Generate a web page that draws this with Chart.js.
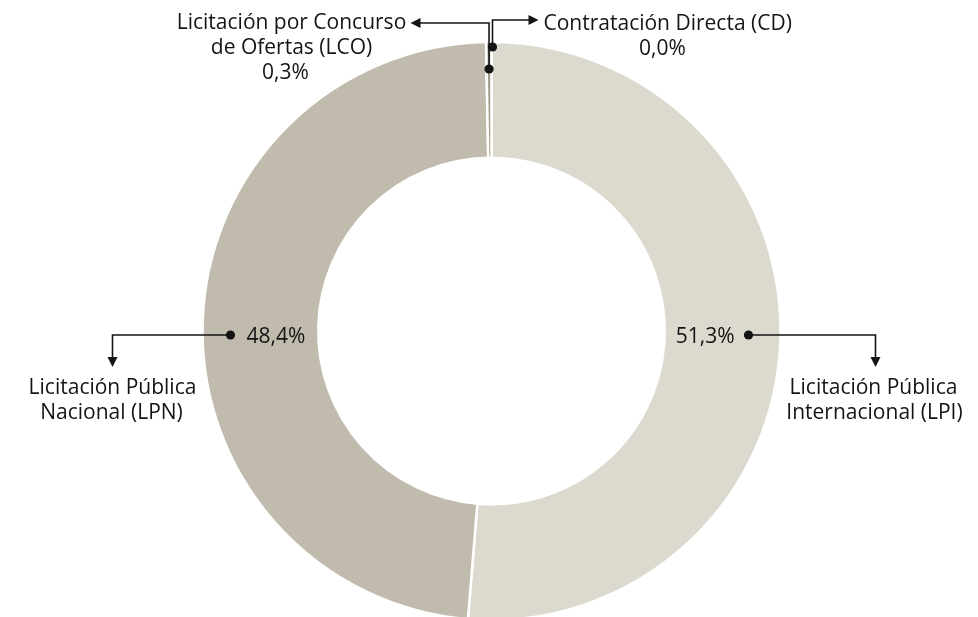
<!DOCTYPE html>
<html>
<head>
<meta charset="utf-8">
<script src="https://cdn.jsdelivr.net/npm/chart.js@4.4.1/dist/chart.umd.min.js"></script>
<style>
  html, body { margin: 0; padding: 0; background: #ffffff; overflow: hidden; }
  #wrap { width: 978px; height: 617px; overflow: hidden; }
</style>
</head>
<body>
<div id="wrap"><canvas id="donut" width="978" height="700"></canvas></div>
<script>
// Modalidades de contratación, % del total (sentido horario desde arriba)
const categories = [
  'Contratación Directa (CD)',
  'Licitación Pública Internacional (LPI)',
  'Licitación Pública Nacional (LPN)',
  'Licitación por Concurso de Ofertas (LCO)'
];
const shares = [0.0, 51.3, 48.4, 0.3];
const sliceColors = ['#a39d8a', '#dcd9ce', '#c0bbac', '#a39d8a'];

// Textos de las llamadas (en líneas)
const calloutLines = [
  ['Contratación Directa (CD)'],
  ['Licitación Pública', 'Internacional (LPI)'],
  ['Licitación Pública', 'Nacional (LPN)'],
  ['Licitación por Concurso', 'de Ofertas (LCO)']
];

const FONT = '21px "Open Sans", sans-serif';

function pct(v) {
  return v.toFixed(1).replace('.', ',') + '%';
}

function arrowHead(ctx, x, y, dir) {
  const L = 10, W = 5;
  ctx.beginPath();
  if (dir === 'down') {
    ctx.moveTo(x, y); ctx.lineTo(x - W, y - L); ctx.lineTo(x + W, y - L);
  } else if (dir === 'left') {
    ctx.moveTo(x, y); ctx.lineTo(x + L, y - W); ctx.lineTo(x + L, y + W);
  } else {
    ctx.moveTo(x, y); ctx.lineTo(x - L, y - W); ctx.lineTo(x - L, y + W);
  }
  ctx.closePath();
  ctx.fill();
}

function dot(ctx, x, y) {
  ctx.beginPath();
  ctx.arc(x, y, 4.6, 0, Math.PI * 2);
  ctx.fill();
}

function polyline(ctx, pts) {
  ctx.beginPath();
  ctx.moveTo(pts[0][0], pts[0][1]);
  for (let i = 1; i < pts.length; i++) ctx.lineTo(pts[i][0], pts[i][1]);
  ctx.stroke();
}

const calloutPlugin = {
  id: 'callouts',
  afterDraw(chart) {
    const ctx = chart.ctx;
    const arcs = chart.getDatasetMeta(0).data;
    const cx = arcs[0].x, cy = arcs[0].y;
    const R = arcs[0].outerRadius;

    const mid = (a) => (a.startAngle + a.endAngle) / 2;
    const polar = (a, r) => [cx + Math.cos(mid(a)) * r, cy + Math.sin(mid(a)) * r];

    ctx.save();
    ctx.fillStyle = '#141414';
    ctx.strokeStyle = '#141414';
    ctx.lineWidth = 1.6;
    ctx.font = FONT;
    ctx.textBaseline = 'middle';

    // CD: punto cerca del borde, línea hacia arriba y a la derecha
    let p = polar(arcs[0], R - 5);
    p[0] += 1;
    polyline(ctx, [p, [p[0], cy - 311], [cx + 38, cy - 311]]);
    arrowHead(ctx, cx + 47, cy - 311, 'right');
    dot(ctx, p[0], p[1]);
    ctx.textAlign = 'left';
    ctx.fillText(calloutLines[0][0], cx + 52, cy - 307);
    ctx.textAlign = 'center';
    ctx.fillText(pct(shares[0]), cx + 171, cy - 282);

    // LCO: punto en el segmento, línea hacia arriba y a la izquierda
    p = polar(arcs[3], R - 27);
    polyline(ctx, [p, [p[0], cy - 308], [cx - 72, cy - 308]]);
    arrowHead(ctx, cx - 81, cy - 308, 'left');
    dot(ctx, p[0], p[1]);
    ctx.textAlign = 'center';
    ctx.fillText(calloutLines[3][0], cx - 200, cy - 308);
    ctx.fillText(calloutLines[3][1], cx - 200, cy - 283);
    ctx.fillText(pct(shares[3]), cx - 206, cy - 258);

    // LPI: a la derecha
    const yR = cy + 4;
    const xR = cx + R - 32;
    polyline(ctx, [[xR, yR], [cx + 384, yR], [cx + 384, cy + 26]]);
    arrowHead(ctx, cx + 384, cy + 36, 'down');
    dot(ctx, xR, yR);
    ctx.textAlign = 'right';
    ctx.fillText(pct(shares[1]), xR - 14, yR + 2);
    ctx.textAlign = 'center';
    ctx.fillText(calloutLines[1][0], cx + 382, cy + 57);
    ctx.fillText(calloutLines[1][1], cx + 383, cy + 82);

    // LPN: a la izquierda
    const xL = cx - R + 28;
    polyline(ctx, [[xL, yR], [cx - 379, yR], [cx - 379, cy + 26]]);
    arrowHead(ctx, cx - 379, cy + 36, 'down');
    dot(ctx, xL, yR);
    ctx.textAlign = 'left';
    ctx.fillText(pct(shares[2]), xL + 16, yR + 2);
    ctx.textAlign = 'center';
    ctx.fillText(calloutLines[2][0], cx - 379, cy + 57);
    ctx.fillText(calloutLines[2][1], cx - 380, cy + 82);

    ctx.restore();
  }
};

new Chart(document.getElementById('donut'), {
  type: 'doughnut',
  data: {
    labels: categories,
    datasets: [{
      data: shares,
      backgroundColor: sliceColors,
      borderColor: '#ffffff',
      borderWidth: 2.5
    }]
  },
  options: {
    responsive: false,
    animation: false,
    radius: 289,
    cutout: 174,
    layout: { padding: { left: 200, right: 195, top: 30, bottom: 68 } },
    plugins: {
      legend: { display: false },
      tooltip: { enabled: false }
    }
  },
  plugins: [calloutPlugin]
});
</script>
</body>
</html>
